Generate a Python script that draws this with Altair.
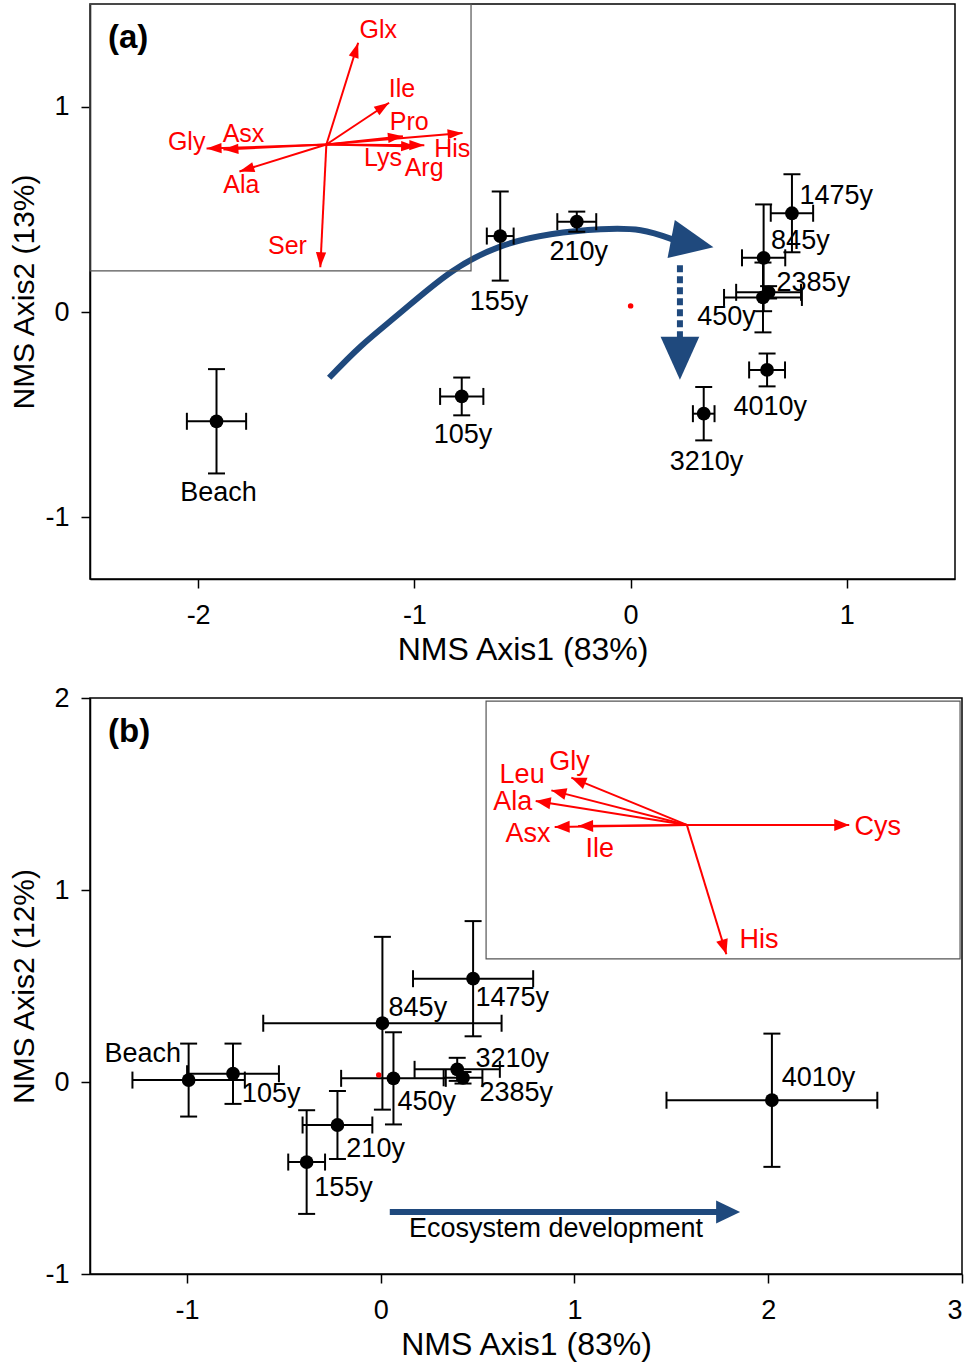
import math
import altair as alt
import pandas as pd

FONT = "Liberation Sans"
BLUE = "#1F497D"
RED = "#FF0000"

# ---------------- Panel (a) data ----------------
A_LABELS = ["Beach", "105y", "155y", "210y", "450y", "845y", "1475y", "2385y", "3210y", "4010y"]
A_X = [-1.915, -0.781, -0.603, -0.249, 0.612, 0.615, 0.746, 0.638, 0.338, 0.631]
A_Y = [-0.532, -0.411, 0.370, 0.440, 0.071, 0.264, 0.481, 0.096, -0.495, -0.282]
A_XERR = [0.137, 0.100, 0.062, 0.090, 0.180, 0.100, 0.098, 0.150, 0.050, 0.083]
A_YERR = [0.254, 0.092, 0.217, 0.049, 0.170, 0.260, 0.190, 0.030, 0.130, 0.080]
A_LX = [-1.906, -0.775, -0.609, -0.240, 0.443, 0.785, 0.951, 0.845, 0.351, 0.646]
A_LY = [-0.883, -0.597, 0.049, 0.291, -0.024, 0.345, 0.563, 0.141, -0.728, -0.461]

A_VEC_NAMES = ["Glx", "Ile", "Pro", "His", "Arg", "Lys", "Gly", "Asx", "Ala", "Ser"]
A_VEC_X = [-1.260, -1.117, -1.053, -0.777, -0.954, -0.992, -1.961, -1.883, -1.809, -1.435]
A_VEC_Y = [1.311, 1.019, 0.856, 0.872, 0.812, 0.806, 0.796, 0.791, 0.684, 0.218]
A_VEC_LX = [-1.167, -1.057, -1.024, -0.825, -0.955, -1.145, -2.053, -1.790, -1.800, -1.587]
A_VEC_LY = [1.374, 1.087, 0.927, 0.795, 0.700, 0.748, 0.830, 0.869, 0.621, 0.320]
A_ORIGIN = [-1.407, 0.816]
A_INSET = [-2.5, -0.738, 0.2, 1.5]
A_CENTROID = [0.0, 0.03]
A_CURVE_X = [-1.394, -1.246, -1.061, -0.831, -0.600, -0.369, -0.138, 0.046, 0.194]
A_CURVE_Y = [-0.320, -0.165, 0.000, 0.194, 0.320, 0.379, 0.403, 0.398, 0.354]
A_CURVE_TIP = [0.383, 0.316]
A_DASH_X = [0.228, 0.228]
A_DASH_Y = [0.228, -0.121]
A_DASH_TIP = [0.228, -0.330]

# ---------------- Panel (b) data ----------------
B_LABELS = ["Beach", "105y", "155y", "210y", "450y", "845y", "1475y", "2385y", "3210y", "4010y"]
B_X = [-0.991, -0.762, -0.382, -0.223, 0.066, 0.009, 0.477, 0.425, 0.395, 2.019]
B_Y = [0.010, 0.043, -0.417, -0.224, 0.019, 0.306, 0.538, 0.022, 0.066, -0.095]
B_XERR = [0.290, 0.237, 0.095, 0.180, 0.270, 0.615, 0.310, 0.100, 0.220, 0.544]
B_YERR = [0.190, 0.157, 0.270, 0.177, 0.240, 0.450, 0.300, 0.030, 0.060, 0.347]
B_LX = [-1.228, -0.565, -0.192, -0.026, 0.238, 0.192, 0.679, 0.700, 0.679, 2.259]
B_LY = [0.146, -0.063, -0.552, -0.349, -0.104, 0.385, 0.4375, -0.057, 0.120, 0.021]

B_VEC_NAMES = ["Cys", "His", "Gly", "Leu", "Ala", "Asx", "Ile"]
B_VEC_X = [2.418, 1.784, 0.984, 0.881, 0.800, 0.898, 1.019]
B_VEC_Y = [1.339, 0.665, 1.585, 1.519, 1.464, 1.328, 1.333]
B_VEC_LX = [2.565, 1.952, 0.975, 0.730, 0.682, 0.760, 1.131]
B_VEC_LY = [1.328, 0.738, 1.668, 1.597, 1.458, 1.290, 1.212]
B_ORIGIN = [1.580, 1.339]
B_INSET = [0.544, 2.99, 0.641, 1.984]
B_CENTROID = [-0.01, 0.036]
B_ARROW_X = [0.047, 1.74]
B_ARROW_Y = [-0.677, -0.677]
B_ARROW_TIP = [1.855, -0.677]
B_ARROW_TEXT = "Ecosystem development"
B_ARROW_TEXT_POS = [0.905, -0.766]

SMALL_HEAD = "M0,0L0.34,1L-0.34,1Z"
B_SMALL_HEAD = "M0,0L0.4,1L-0.4,1Z"
BIG_HEAD = "M0,0L0.45,1L-0.45,1Z"
B_BIG_HEAD = "M0,0L0.48,1L-0.48,1Z"


def angle(x0, y0, x1, y1, kx, ky):
    dxp = (x1 - x0) * kx
    dyp = -(y1 - y0) * ky
    return math.degrees(math.atan2(dxp, -dyp)) % 360


def axis(values, title, lp, tp, tfs):
    return alt.Axis(values=values, title=title, grid=False, tickSize=9, tickWidth=1.5,
                    tickColor="black", domainColor="black", domainWidth=1.5,
                    labelFont=FONT, labelFontSize=27, labelColor="black", labelPadding=lp,
                    titleFont=FONT, titleFontSize=tfs, titleFontWeight="normal",
                    titleColor="black", titlePadding=tp, labelExpr="'' + datum.value")


def panel(letter, xdom, ydom, W, H, xticks, yticks, ytitle,
          labels, X, Y, XE, YE, LX, LY,
          vnames, VX, VY, VLX, VLY, origin, inset, centroid, head_shape, head_size, vfs):
    kx = W / (xdom[1] - xdom[0])
    ky = H / (ydom[1] - ydom[0])
    xs = alt.Scale(domain=xdom, nice=False, zero=False)
    ys = alt.Scale(domain=ydom, nice=False, zero=False)
    X_ = lambda f: alt.X(f, type="quantitative", scale=xs, axis=axis(xticks, "NMS Axis1 (83%)", 14, 6, 32))
    Y_ = lambda f: alt.Y(f, type="quantitative", scale=ys, axis=axis(yticks, ytitle, 12, 5, 30))

    pts = pd.DataFrame({"label": labels, "x": X, "y": Y, "xe": XE, "ye": YE, "lx": LX, "ly": LY})
    pts["xlo"] = pts.x - pts.xe
    pts["xhi"] = pts.x + pts.xe
    pts["ylo"] = pts.y - pts.ye
    pts["yhi"] = pts.y + pts.ye

    vec = pd.DataFrame({"name": vnames, "tx": VX, "ty": VY, "lx": VLX, "ly": VLY})
    vec["ox"] = origin[0]
    vec["oy"] = origin[1]
    vec["ang"] = [angle(origin[0], origin[1], a, b, kx, ky) for a, b in zip(VX, VY)]

    box = pd.DataFrame({"x1": [inset[0]], "x2": [inset[1]], "y1": [inset[2]], "y2": [inset[3]]})

    layers = []
    layers.append(alt.Chart(box).mark_rect(fill=None, stroke="#555555", strokeWidth=1.2).encode(
        x=X_("x1"), x2="x2", y=Y_("y1"), y2="y2"))
    layers.append(alt.Chart(vec).mark_rule(color=RED, strokeWidth=2).encode(
        x=X_("ox"), y=Y_("oy"), x2="tx", y2="ty"))
    layers.append(alt.Chart(vec).mark_point(shape=head_shape, filled=True, size=head_size,
                                            color=RED, opacity=1).encode(
        x=X_("tx"), y=Y_("ty"), angle=alt.Angle("ang:Q", scale=None)))
    layers.append(alt.Chart(vec).mark_text(font=FONT, fontSize=vfs, color=RED).encode(
        x=X_("lx"), y=Y_("ly"), text="name:N"))

    # error bars
    layers.append(alt.Chart(pts).mark_rule(color="black", strokeWidth=2).encode(
        x=X_("x"), y=Y_("ylo"), y2="yhi"))
    layers.append(alt.Chart(pts).mark_rule(color="black", strokeWidth=2).encode(
        x=X_("xlo"), x2="xhi", y=Y_("y")))
    hcap = "M-1,0L1,0"
    vcap = "M0,-1L0,1"
    for fx, fy, shp in [("x", "ylo", hcap), ("x", "yhi", hcap), ("xlo", "y", vcap), ("xhi", "y", vcap)]:
        layers.append(alt.Chart(pts).mark_point(shape=shp, filled=False, size=289, color="black",
                                                strokeWidth=2, opacity=1).encode(
            x=X_(fx), y=Y_(fy)))
    layers.append(alt.Chart(pts).mark_circle(size=190, color="black", opacity=1).encode(
        x=X_("x"), y=Y_("y")))
    cen = pd.DataFrame({"x": [centroid[0]], "y": [centroid[1]]})
    layers.append(alt.Chart(cen).mark_circle(size=30, color=RED, opacity=1).encode(
        x=X_("x"), y=Y_("y")))
    layers.append(alt.Chart(pts).mark_text(font=FONT, fontSize=27, color="black").encode(
        x=X_("lx"), y=Y_("ly"), text="label:N"))
    let = pd.DataFrame({"t": [letter], "x": [xdom[0]], "y": [ydom[1]]})
    layers.append(alt.Chart(let).mark_text(font=FONT, fontSize=33, fontWeight="bold", color="black",
                                           align="left", baseline="top", dx=18, dy=18).encode(
        x=X_("x"), y=Y_("y"), text="t:N"))
    return layers, X_, Y_, kx, ky


# ---- panel a ----
AXD, AYD, AW, AH = [-2.5, 1.5], [-1.3, 1.5], 865, 575
la, XA, YA, kxa, kya = panel("(a)", AXD, AYD, AW, AH, [-2, -1, 0, 1], [-1, 0, 1], "NMS Axis2 (13%)",
                             A_LABELS, A_X, A_Y, A_XERR, A_YERR, A_LX, A_LY,
                             A_VEC_NAMES, A_VEC_X, A_VEC_Y, A_VEC_LX, A_VEC_LY, A_ORIGIN, A_INSET,
                             A_CENTROID, SMALL_HEAD, 900, 25)
curve = pd.DataFrame({"x": A_CURVE_X, "y": A_CURVE_Y, "i": list(range(len(A_CURVE_X)))})
la.insert(0, alt.Chart(curve).mark_line(color=BLUE, strokeWidth=6, strokeCap="butt",
                                        interpolate="natural").encode(
    x=XA("x"), y=YA("y"), order="i:Q"))
dash = pd.DataFrame({"x": A_DASH_X, "y": A_DASH_Y, "i": [0, 1]})
la.insert(1, alt.Chart(dash).mark_line(color=BLUE, strokeWidth=6, strokeDash=[7, 4], strokeCap="butt").encode(
    x=XA("x"), y=YA("y"), order="i:Q"))
heads_a = pd.DataFrame({
    "x": [A_CURVE_TIP[0], A_DASH_TIP[0]],
    "y": [A_CURVE_TIP[1], A_DASH_TIP[1]],
    "ang": [angle(A_CURVE_X[-1], A_CURVE_Y[-1], A_CURVE_TIP[0], A_CURVE_TIP[1], kxa, kya),
            angle(A_DASH_X[-1], A_DASH_Y[-1], A_DASH_TIP[0], A_DASH_TIP[1], kxa, kya)]})
la.insert(2, alt.Chart(heads_a).mark_point(shape=BIG_HEAD, filled=True, size=7400, color=BLUE, opacity=1).encode(
    x=XA("x"), y=YA("y"), angle=alt.Angle("ang:Q", scale=None)))
chart_a = alt.layer(*la).properties(width=AW, height=AH)

# ---- panel b ----
BXD, BYD, BW, BH = [-1.5, 3.0], [-1.0, 2.0], 872, 576
lb, XB, YB, kxb, kyb = panel("(b)", BXD, BYD, BW, BH, [-1, 0, 1, 2, 3], [-1, 0, 1, 2], "NMS Axis2 (12%)",
                             B_LABELS, B_X, B_Y, B_XERR, B_YERR, B_LX, B_LY,
                             B_VEC_NAMES, B_VEC_X, B_VEC_Y, B_VEC_LX, B_VEC_LY, B_ORIGIN, B_INSET,
                             B_CENTROID, B_SMALL_HEAD, 900, 27)
arrow_b = pd.DataFrame({"x": B_ARROW_X, "y": B_ARROW_Y, "i": [0, 1]})
lb.insert(0, alt.Chart(arrow_b).mark_line(color=BLUE, strokeWidth=6, strokeCap="butt").encode(
    x=XB("x"), y=YB("y"), order="i:Q"))
head_b = pd.DataFrame({"x": [B_ARROW_TIP[0]], "y": [B_ARROW_TIP[1]],
                       "ang": [angle(B_ARROW_X[-1], B_ARROW_Y[-1], B_ARROW_TIP[0], B_ARROW_TIP[1], kxb, kyb)]})
lb.insert(1, alt.Chart(head_b).mark_point(shape=B_BIG_HEAD, filled=True, size=2304, color=BLUE, opacity=1).encode(
    x=XB("x"), y=YB("y"), angle=alt.Angle("ang:Q", scale=None)))
txt_b = pd.DataFrame({"t": [B_ARROW_TEXT], "x": [B_ARROW_TEXT_POS[0]], "y": [B_ARROW_TEXT_POS[1]]})
lb.append(alt.Chart(txt_b).mark_text(font=FONT, fontSize=27, color="black").encode(
    x=XB("x"), y=YB("y"), text="t:N"))
chart_b = alt.layer(*lb).properties(width=BW, height=BH)

chart = alt.vconcat(chart_a, chart_b, spacing=17).properties(
    padding={"left": 9, "top": 2, "right": 5, "bottom": 5}
).configure(background="white").configure_view(stroke="black", strokeWidth=1.5)

chart.save("out.html", embed_options={"renderer": "svg", "actions": False})
